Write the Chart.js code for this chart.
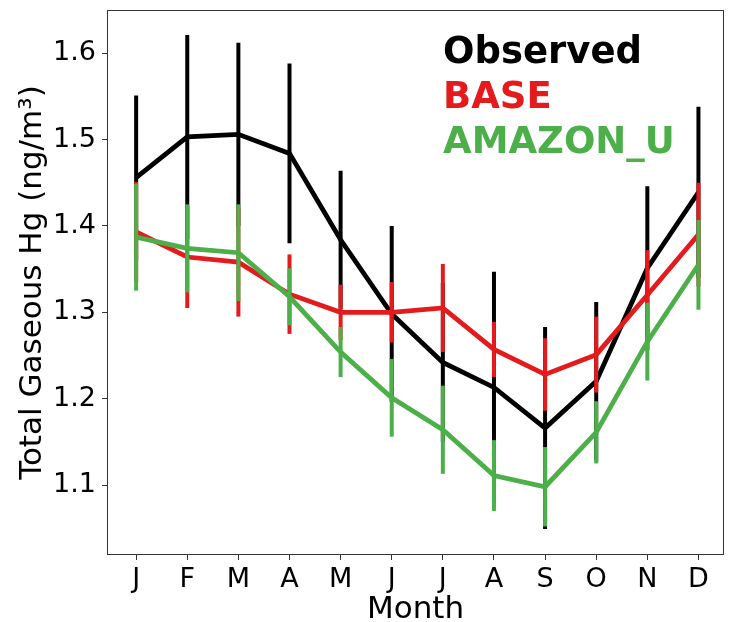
<!DOCTYPE html>
<html>
<head>
<meta charset="utf-8">
<script src="https://cdn.jsdelivr.net/npm/chart.js"></script>
<style>
  html, body { margin: 0; padding: 0; background: #fff; }
  #wrap { width: 733px; height: 622px; }
</style>
</head>
<body>
<div id="wrap"><canvas id="tgm"></canvas></div>
<script>
// monthly mean TGM with 1-sigma spread
const MONTHS = ['J', 'F', 'M', 'A', 'M', 'J', 'J', 'A', 'S', 'O', 'N', 'D'];
const Y_TICKS = [1.1, 1.2, 1.3, 1.4, 1.5, 1.6];

const OBS = [1.456, 1.503, 1.506, 1.484, 1.384, 1.298, 1.242, 1.213, 1.166, 1.220, 1.351, 1.439];
const OBS_ERR = [0.095, 0.118, 0.106, 0.104, 0.080, 0.102, 0.092, 0.134, 0.117, 0.092, 0.095, 0.099];

const BASE = [1.393, 1.364, 1.358, 1.321, 1.300, 1.300, 1.305, 1.257, 1.228, 1.251, 1.320, 1.390];
const BASE_ERR = [0.058, 0.059, 0.063, 0.046, 0.032, 0.035, 0.051, 0.032, 0.042, 0.044, 0.052, 0.060];

const AMAZON_U = [1.387, 1.374, 1.369, 1.318, 1.254, 1.201, 1.164, 1.111, 1.098, 1.161, 1.266, 1.355];
const AMAZON_U_ERR = [0.062, 0.051, 0.056, 0.033, 0.029, 0.045, 0.051, 0.041, 0.046, 0.036, 0.045, 0.052];

const FONT = "'DejaVu Sans', sans-serif";

const series = [
  { label: 'Observed', values: OBS, err: OBS_ERR, color: '#000000' },
  { label: 'BASE', values: BASE, err: BASE_ERR, color: '#e41a1c' },
  { label: 'AMAZON_U', values: AMAZON_U, err: AMAZON_U_ERR, color: '#4daf4a' },
];

const toPoints = vals => vals.map((v, i) => ({ x: i, y: v }));

// vertical error bars, drawn just under each series' own line
const errorBars = {
  id: 'errorBars',
  beforeDatasetDraw(chart, args) {
    const s = series[args.index];
    const { x, y } = chart.scales;
    const ctx = chart.ctx;
    ctx.save();
    ctx.strokeStyle = s.color;
    ctx.lineWidth = 4;
    s.values.forEach((v, i) => {
      const px = x.getPixelForValue(i);
      ctx.beginPath();
      ctx.moveTo(px, y.getPixelForValue(v - s.err[i]));
      ctx.lineTo(px, y.getPixelForValue(v + s.err[i]));
      ctx.stroke();
    });
    ctx.restore();
  }
};

// box round the axes + coloured text legend
const frameAndLegend = {
  id: 'frameAndLegend',
  afterDraw(chart) {
    const { ctx, chartArea: a } = chart;
    ctx.save();
    ctx.strokeStyle = '#333';
    ctx.lineWidth = 1;
    ctx.strokeRect(a.left + 0.5, a.top + 0.5, a.right - a.left - 1, a.bottom - a.top - 1);

    ctx.font = 'bold 37px ' + FONT;
    ctx.textAlign = 'left';
    ctx.textBaseline = 'alphabetic';
    series.forEach((s, i) => {
      ctx.fillStyle = s.color;
      ctx.fillText(s.label, 443, 63 + i * 45);
    });
    ctx.restore();
  }
};

const config = {
  type: 'line',
  data: {
    datasets: series.map((s, i) => ({
      label: s.label,
      data: toPoints(s.values),
      borderColor: s.color,
      backgroundColor: s.color,
      borderWidth: 4.8,
      pointRadius: 0,
      tension: 0,
      fill: false,
      order: 3 - i,
    }))
  },
  options: {
    responsive: true,
    maintainAspectRatio: false,
    animation: false,
    layout: { padding: { top: 10, right: 9, left: 0, bottom: 0 } },
    plugins: {
      legend: { display: false },
      tooltip: { enabled: false },
    },
    scales: {
      x: {
        type: 'linear',
        min: -0.57,
        max: 11.5,
        afterBuildTicks: scale => { scale.ticks = MONTHS.map((m, i) => ({ value: i })); },
        afterFit: scale => {
          scale.height = 67;
          scale.paddingLeft = 0;
          scale.paddingRight = 0;
        },
        grid: { drawOnChartArea: false, tickLength: 5, color: '#333' },
        border: { display: false },
        ticks: {
          color: '#000',
          font: { family: FONT, size: 27 },
          padding: 4,
          maxRotation: 0,
          autoSkip: false,
          callback: v => MONTHS[v],
        },
        title: {
          display: true,
          text: 'Month',
          color: '#000',
          font: { family: FONT, size: 31, lineHeight: 1 },
          padding: { top: 0, bottom: -3 },
        },
      },
      y: {
        min: 1.019,
        max: 1.65,
        afterBuildTicks: scale => { scale.ticks = Y_TICKS.map(v => ({ value: v })); },
        afterFit: scale => {
          scale.width = 107;
          scale.paddingTop = 0;
          scale.paddingBottom = 0;
        },
        grid: { drawOnChartArea: false, tickLength: 5, color: '#333' },
        border: { display: false },
        ticks: {
          color: '#000',
          font: { family: FONT, size: 27 },
          padding: 6,
          callback: v => v.toFixed(1),
        },
        title: {
          display: true,
          text: 'Total Gaseous Hg (ng/m³)',
          color: '#000',
          font: { family: FONT, size: 31 },
          padding: { top: 14, bottom: 0 },
        },
      },
    },
  },
  plugins: [errorBars, frameAndLegend],
};

const tgm = new Chart(document.getElementById('tgm'), config);
</script>
</body>
</html>
